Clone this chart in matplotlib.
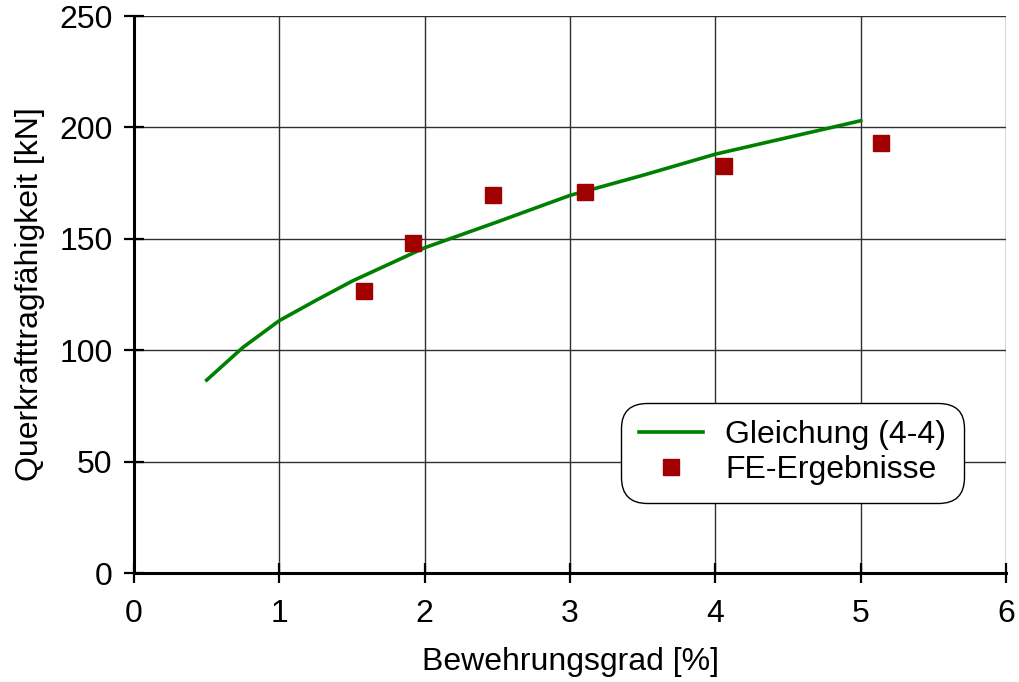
import numpy as np
import matplotlib
matplotlib.use("Agg")
from matplotlib import pyplot as plt

plt.rcParams['font.family'] = ['Liberation Sans', 'DejaVu Sans']

# Gleichung (4-4)
rho_eq = [0.5, 0.75, 1.0, 1.25, 1.5, 2.0, 2.5, 3.0, 3.5, 4.0, 4.5, 5.0]
v_eq = [86.6, 101.3, 113.3, 122.3, 131.0, 146.0, 157.6, 169.5, 178.5, 188.0, 195.5, 203.0]

# FE-Ergebnisse
rho_fe = [1.58, 1.92, 2.47, 3.10, 4.06, 5.14]
v_fe = [126.5, 148.1, 169.6, 170.9, 182.8, 192.9]

fs = 23

fig = plt.figure(figsize=(10.2, 6.82), dpi=100)
ax = fig.add_axes([0.1314, 0.1598, 0.8549, 0.8167])

ax.plot(rho_eq, v_eq, color='#008000', lw=2.6, label='Gleichung (4-4)', zorder=3)
ax.plot(rho_fe, v_fe, ls='none', marker='s', ms=11.5, color='#a00000',
        mec='#a00000', label='FE-Ergebnisse', zorder=4)

ax.set_xlim(0, 6)
ax.set_ylim(0, 250)
ax.set_xticks(np.arange(0, 7, 1))
ax.set_yticks(np.arange(0, 251, 50))
ax.grid(True, color='#303030', lw=1.0)
ax.set_axisbelow(True)

for s in ['top', 'right']:
    ax.spines[s].set_visible(False)
for s in ['left', 'bottom']:
    ax.spines[s].set_linewidth(2.2)

ax.tick_params(direction='inout', length=15, width=1.6, labelsize=fs, pad=8)
ax.tick_params(axis='x', pad=11)
ax.set_xlabel('Bewehrungsgrad [%]', fontsize=fs, labelpad=13)
ax.set_ylabel('Querkrafttragfähigkeit [kN]', fontsize=fs, labelpad=10)

leg = ax.legend(loc='center', bbox_to_anchor=(0.755, 0.216), fontsize=fs,
                frameon=True, framealpha=1, edgecolor='black',
                handlelength=2.0, handletextpad=0.7, borderpad=0.3,
                labelspacing=0.15, borderaxespad=0)
leg.get_frame().set_boxstyle('round,pad=0.25,rounding_size=0.8')
leg.get_frame().set_linewidth(1.0)

fig.savefig('out.png', dpi=100)
